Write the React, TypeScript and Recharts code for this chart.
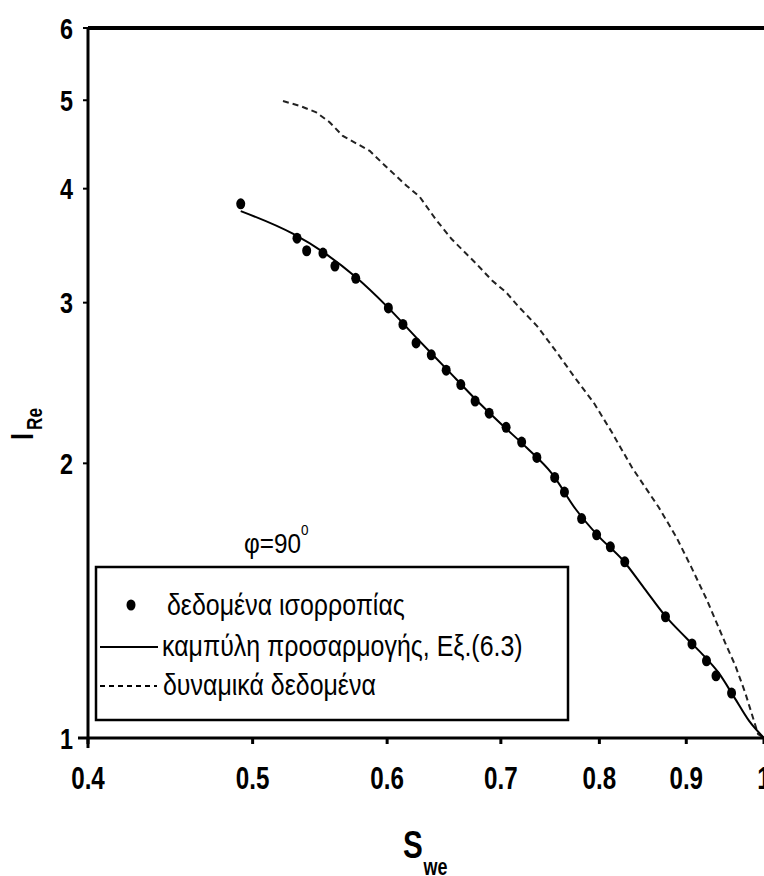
import React from 'react';
import { ComposedChart, XAxis, YAxis, Line, Scatter, ReferenceLine, Legend, Label } from 'recharts';

// equilibrium data (dots)
const eqX = [0.492, 0.531, 0.538, 0.550, 0.559, 0.575, 0.601, 0.613, 0.624, 0.637, 0.650, 0.663, 0.676, 0.689, 0.705, 0.720, 0.735, 0.753, 0.763, 0.781, 0.797, 0.812, 0.828, 0.875, 0.907, 0.925, 0.937, 0.957];
const eqY = [3.85, 3.53, 3.42, 3.40, 3.29, 3.19, 2.96, 2.84, 2.71, 2.63, 2.53, 2.44, 2.34, 2.27, 2.19, 2.11, 2.03, 1.93, 1.86, 1.74, 1.67, 1.62, 1.56, 1.358, 1.268, 1.215, 1.17, 1.12];

// fitted curve, Eq.(6.3)
const fitX = [0.492, 0.528, 0.550, 0.575, 0.600, 0.625, 0.650, 0.675, 0.700, 0.725, 0.750, 0.775, 0.800, 0.825, 0.850, 0.875, 0.900, 0.920, 0.940, 0.960, 0.980, 1.0];
const fitY = [3.78, 3.57, 3.41, 3.20, 2.97, 2.74, 2.54, 2.36, 2.21, 2.08, 1.95, 1.78, 1.66, 1.57, 1.46, 1.36, 1.287, 1.235, 1.18, 1.11, 1.044, 1.0];

// dynamic data (dashed)
const dynX = [0.521, 0.533, 0.545, 0.555, 0.565, 0.576, 0.586, 0.599, 0.616, 0.627, 0.641, 0.655, 0.677, 0.692, 0.705, 0.717, 0.735, 0.757, 0.773, 0.794, 0.814, 0.836, 0.867, 0.888, 0.906, 0.925, 0.949, 0.962, 0.975, 0.992, 1.0];
const dynY = [4.99, 4.93, 4.85, 4.73, 4.57, 4.48, 4.40, 4.23, 4.03, 3.92, 3.70, 3.52, 3.31, 3.17, 3.08, 2.97, 2.83, 2.63, 2.49, 2.33, 2.16, 1.98, 1.79, 1.66, 1.54, 1.42, 1.27, 1.20, 1.12, 1.01, 1.0];

const xTicks = [0.4, 0.5, 0.6, 0.7, 0.8, 0.9, 1];
const yTicks = [1, 2, 3, 4, 5, 6];
const seriesNames = ['δεδομένα ισορροπίας', 'καμπύλη προσαρμογής, Εξ.(6.3)', 'δυναμικά δεδομένα'];

const eqData = eqX.map((x, i) => ({ x, y: eqY[i] }));
const fitData = fitX.map((x, i) => ({ x, y: fitY[i] }));
const dynData = dynX.map((x, i) => ({ x, y: dynY[i] }));

const FONT = "'Liberation Sans', Arial, sans-serif";
const SQ = 0.78; // horizontal squeeze for bold narrow look

const renderDot = (props: any) => (
  <ellipse cx={props.cx} cy={props.cy} rx={4.5} ry={5.5} fill="#000" />
);

const XTick = (props: any) => {
  const { x, y, payload } = props;
  return (
    <g transform={`translate(${x} ${y}) scale(${SQ} 1)`}>
      <text x={0} y={0} dy="0.71em" textAnchor="middle" fontFamily={FONT} fontWeight={700} fontSize={31} fill="#000">
        {String(payload.value)}
      </text>
    </g>
  );
};

const YTick = (props: any) => {
  const { x, y, payload } = props;
  return (
    <g transform={`translate(${x} ${y}) scale(${SQ} 1)`}>
      <text x={0} y={0} dy="0.355em" textAnchor="end" fontFamily={FONT} fontWeight={700} fontSize={30} fill="#000">
        {String(payload.value)}
      </text>
    </g>
  );
};

const renderXTitle = () => (
  <g transform={`translate(403 858) scale(${SQ} 1)`}>
    <text x={0} y={0} fontFamily={FONT} fontWeight={700} fill="#000">
      <tspan fontSize={38}>S</tspan>
      <tspan fontSize={23} dy={17} dx={1}>we</tspan>
    </text>
  </g>
);

const renderPhi = () => (
  <g transform="translate(244 553) scale(0.9 1)">
    <text x={0} y={0} fontFamily={FONT} fill="#000" fontSize={27}>
      φ=90<tspan fontSize={15} dy={-18}>0</tspan>
    </text>
  </g>
);

const renderYTitle = () => (
  <g transform={`translate(33 440) rotate(-90) scale(${SQ} 1)`}>
    <text x={0} y={0} fontFamily={FONT} fontWeight={700} fill="#000">
      <tspan fontSize={32}>I</tspan>
      <tspan fontSize={22} dy={9} dx={4}>Re</tspan>
    </text>
  </g>
);

const LegendText = ({ x, y, children }: any) => (
  <g transform={`translate(${x} ${y}) scale(0.86 1)`}>
    <text x={0} y={0} fontFamily={FONT} fontSize={29} fill="#000">{children}</text>
  </g>
);

const renderLegend = () => (
  <svg width={764} height={876} style={{ display: 'block' }}>
    <rect x={96} y={567} width={472} height={153} fill="none" stroke="#000" strokeWidth={2.5} />
    <ellipse cx={131} cy={605} rx={4.5} ry={5.5} fill="#000" />
    <LegendText x={167} y={615}>{seriesNames[0]}</LegendText>
    <line x1={100} x2={158} y1={647} y2={647} stroke="#000" strokeWidth={2} />
    <LegendText x={162} y={656}>{seriesNames[1]}</LegendText>
    <line x1={100} x2={157} y1={686} y2={686} stroke="#000" strokeWidth={2} strokeDasharray="5 4" />
    <LegendText x={163} y={695}>{seriesNames[2]}</LegendText>
  </svg>
);

export default function App() {
  return (
    <div style={{ position: 'absolute', left: 0, top: 0, width: 764, height: 876, background: '#fff' }}>
      <ComposedChart width={764} height={876} margin={{ top: 28, right: 0, bottom: 0, left: 0 }}>
        <XAxis
          dataKey="x"
          type="number"
          scale="log"
          domain={[0.4, 1]}
          ticks={xTicks}
          interval={0}
          allowDataOverflow
          height={138}
          axisLine={{ stroke: '#000', strokeWidth: 3 }}
          tickLine={{ stroke: '#000', strokeWidth: 3 }}
          tickSize={6}
          tickMargin={23}
          tick={<XTick />}
        >
          <Label content={renderXTitle} />
          <Label content={renderPhi} />
        </XAxis>
        <YAxis
          dataKey="y"
          type="number"
          scale="log"
          domain={[1, 6]}
          ticks={yTicks}
          interval={0}
          allowDataOverflow
          width={88}
          axisLine={{ stroke: '#000', strokeWidth: 3 }}
          tickLine={{ stroke: '#000', strokeWidth: 2 }}
          tickSize={5}
          tickMargin={10}
          tick={<YTick />}
        >
          <Label content={renderYTitle} />
        </YAxis>
        <ReferenceLine y={6} stroke="#000" strokeWidth={4} ifOverflow="visible" />
        <ReferenceLine segment={[{ x: 0.3946, y: 1 }, { x: 0.4, y: 1 }]} stroke="#000" strokeWidth={3} ifOverflow="visible" />
        <ReferenceLine segment={[{ x: 0.4, y: 0.975 }, { x: 0.4, y: 1 }]} stroke="#000" strokeWidth={3} ifOverflow="visible" />
        <Line
          data={dynData}
          dataKey="y"
          name={seriesNames[2]}
          type="linear"
          stroke="#222"
          strokeWidth={2}
          strokeDasharray="6 4"
          dot={false}
          isAnimationActive={false}
        />
        <Line
          data={fitData}
          dataKey="y"
          name={seriesNames[1]}
          type="monotone"
          stroke="#000"
          strokeWidth={2}
          dot={false}
          isAnimationActive={false}
        />
        <Scatter
          data={eqData}
          dataKey="y"
          name={seriesNames[0]}
          shape={renderDot}
          isAnimationActive={false}
        />
        <Legend
          content={renderLegend}
          layout="horizontal"
          verticalAlign="middle"
          align="center"
          wrapperStyle={{ position: 'absolute', left: 0, top: 0, width: 764, height: 876, pointerEvents: 'none' }}
        />
      </ComposedChart>
    </div>
  );
}
